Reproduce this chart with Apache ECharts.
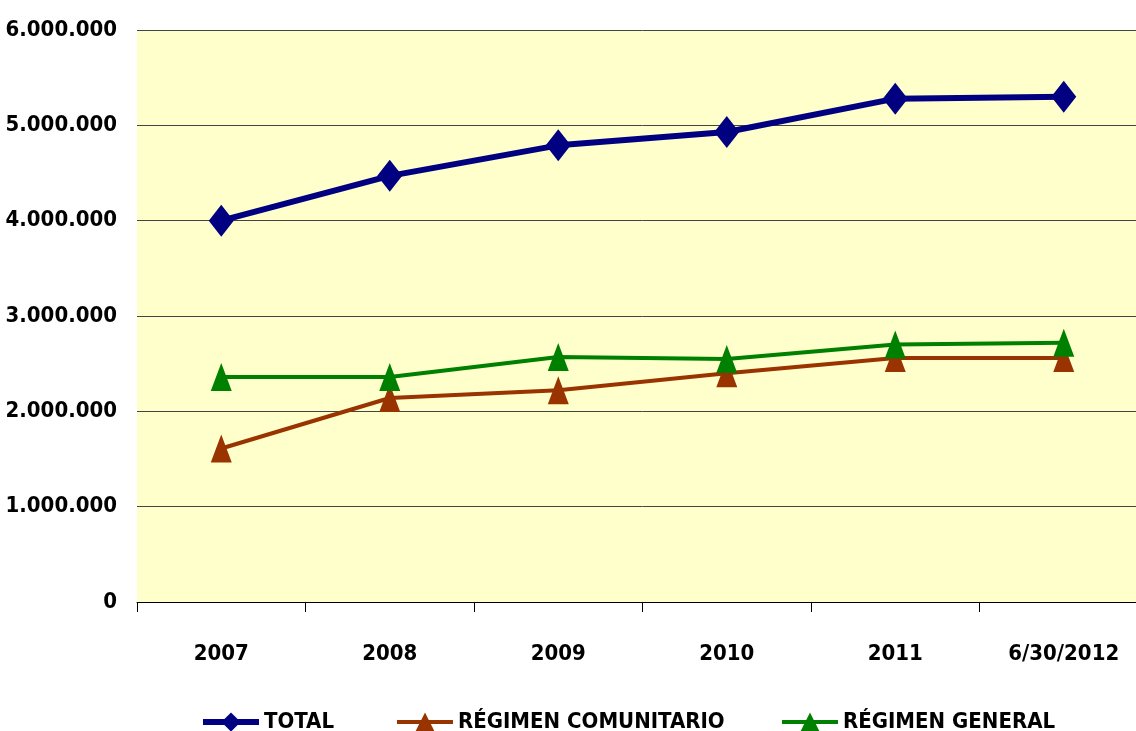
<!DOCTYPE html>
<html>
<head>
<meta charset="utf-8">
<script src="https://cdn.jsdelivr.net/npm/echarts@6/dist/echarts.min.js"></script>
<style>
  html, body { margin: 0; padding: 0; background: #fff; overflow: hidden; }
  #main { width: 1148px; height: 731px; }
</style>
</head>
<body>
<div id="main"></div>
<script>
// categorias y valores
const categories = ['2007', '2008', '2009', '2010', '2011', '6/30/2012'];
const total = [4000000, 4470000, 4790000, 4930000, 5280000, 5300000];
const comunitario = [1610000, 2140000, 2220000, 2400000, 2560000, 2560000];
const general = [2360000, 2360000, 2570000, 2550000, 2700000, 2720000];

const FONT = '"DejaVu Sans Condensed", "Liberation Sans Narrow", "Arial Narrow", sans-serif';

function miles(v) {
  return String(v).replace(/\B(?=(\d{3})+(?!\d))/g, '.');
}

const legendText = { fontFamily: FONT, fontWeight: 'bold', fontSize: 22, color: '#000' };
function leyenda(name, left, width) {
  return {
    left: left,
    top: 706,
    itemWidth: 56,
    itemHeight: 24,
    textStyle: legendText,
    data: [{ name: name, lineStyle: { width: width } }]
  };
}

const myChart = echarts.init(document.getElementById('main'));
const option = {
  animation: false,
  textStyle: { fontFamily: FONT },
  grid: { left: 137, top: 30, bottom: 129, right: 0, show: true, backgroundColor: '#FFFFCC', borderWidth: 0 },
  legend: [
    leyenda('TOTAL', 195, 6),
    leyenda('RÉGIMEN COMUNITARIO', 390, 4),
    leyenda('RÉGIMEN GENERAL', 775, 4)
  ],
  xAxis: {
    type: 'category',
    data: categories,
    boundaryGap: true,
    axisLine: { lineStyle: { color: '#000', width: 1 } },
    axisTick: { show: true, interval: 0, length: 10, lineStyle: { color: '#000' } },
    axisLabel: { margin: 41, fontFamily: FONT, fontWeight: 'bold', fontSize: 22, color: '#000' }
  },
  yAxis: {
    type: 'value',
    min: 0,
    max: 6000000,
    interval: 1000000,
    axisLine: { show: false },
    axisTick: { show: false },
    splitLine: { lineStyle: { color: '#444', width: 1 } },
    axisLabel: { margin: 20, fontFamily: FONT, fontWeight: 'bold', fontSize: 22, color: '#000', formatter: miles }
  },
  series: [
    {
      name: 'TOTAL',
      type: 'line',
      data: total,
      symbol: 'diamond',
      symbolSize: [25, 32],
      lineStyle: { color: '#000080', width: 6 },
      itemStyle: { color: '#000080' },
      z: 3
    },
    {
      name: 'RÉGIMEN COMUNITARIO',
      type: 'line',
      data: comunitario,
      symbol: 'triangle',
      symbolSize: [21, 28],
      lineStyle: { color: '#993300', width: 4 },
      itemStyle: { color: '#993300' },
      z: 2
    },
    {
      name: 'RÉGIMEN GENERAL',
      type: 'line',
      data: general,
      symbol: 'triangle',
      symbolSize: [21, 28],
      lineStyle: { color: '#008000', width: 4 },
      itemStyle: { color: '#008000' },
      z: 4
    }
  ]
};
myChart.setOption(option);
</script>
</body>
</html>
